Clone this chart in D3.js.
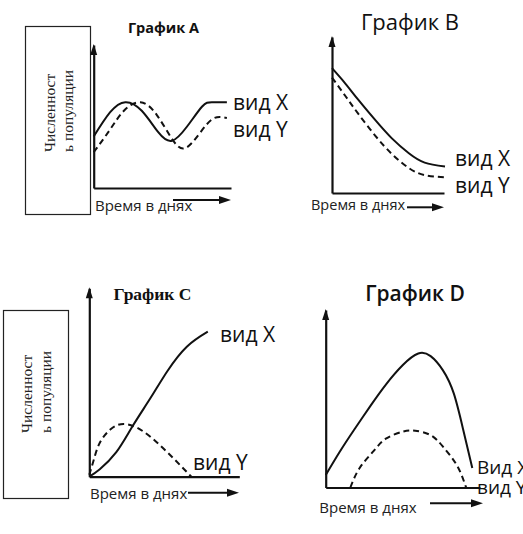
<!DOCTYPE html>
<html><head><meta charset="utf-8">
<script src="https://cdn.jsdelivr.net/npm/d3@7"></script>
<style>
html,body{margin:0;padding:0;background:#fff;}
svg{display:block;}
</style></head>
<body>
<svg id="c" width="523" height="534"></svg>
<script>
// ---- DATA (relative units 0..100 on each axis) ----
const titles = ["График A", "График B", "График C", "График D"];
const timeLabel = "Время в днях";
const yLabelLines = ["Численност", "ь популяции"];
const seriesLabelsA = ["вид X", "вид Y"];
const seriesLabelsB = ["вид X", "вид Y"];
const seriesLabelsC = ["вид X", "вид Y"];
const seriesLabelsD = ["Вид X", "вид Y"];

const tA_X = [0, 12, 23, 35, 47, 57, 68, 79, 86, 97];
const popA_X = [36, 53, 60, 54, 39, 33, 43, 57, 60, 60];
const tA_Y = [0, 12, 22, 34, 46, 58, 67, 77, 87, 97];
const popA_Y = [25, 41, 54, 60, 51, 33, 28, 38, 48.5, 49];

const tB = [0, 12, 23, 38, 53, 68, 82, 100];
const popB_X = [80, 70, 60, 47, 35, 25.5, 19.5, 17];
const popB_Y = [74, 62, 51, 37, 25, 16, 11.5, 10];

const tC_X = [0, 7, 18, 29, 41, 52, 65, 79];
const popC_X = [0, 4, 13, 27, 42, 56, 69, 77];
const tC_Y = [0, 3, 7, 14, 23, 36, 52, 68];
const popC_Y = [1, 9, 18, 25, 28, 24, 13, 0];

const tD_X = [0, 9, 18, 29, 39, 50, 60, 68, 76, 83, 89, 95];
const popD_X = [7, 20, 32, 46, 58, 69, 75.5, 74, 66, 53, 33, 11];
const tD_Y = [16, 22, 31, 39, 50, 58, 68, 76, 85, 91];
const popD_Y = [0, 11, 20.5, 27.5, 31.5, 32, 29.5, 23, 12.5, 0];

// ---- LAYOUT ----
const svg = d3.select("#c");
const SANS = "'Open Sans', 'DejaVu Sans', sans-serif";
const SERIF = "'Liberation Serif', 'DejaVu Serif', serif";

const panels = [
  { x0: 93.7, x1: 231, y0: 188, y1: 45, axisEnd: 231,
    title: { x: 163.5, y: 32.5, size: 14.5, weight: 700, font: SANS },
    time: { x: 95, y: 210.5, size: 15, a0: 173, a1: 231, ay: 200 },
    lab: [[233, 110], [233, 137]], labSize: 21, labels: seriesLabelsA,
    box: [25, 26, 65, 188], vt: { c1: 55, c2: 72.5, y: 152, size: 15.5 },
    X: [tA_X, popA_X], Y: [tA_Y, popA_Y] },
  { x0: 332, x1: 445, y0: 193, y1: 37, axisEnd: 444,
    title: { x: 410, y: 30, size: 22, weight: 400, font: SANS },
    time: { x: 311, y: 210, size: 14.5, a0: 407, a1: 444, ay: 207.3 },
    lab: [[455, 166], [455, 193]], labSize: 21, labels: seriesLabelsB,
    X: [tB, popB_X], Y: [tB, popB_Y] },
  { x0: 89.3, x1: 239.3, y0: 476.7, y1: 288.3, axisEnd: 239.3,
    title: { x: 152.5, y: 300, size: 17.5, weight: 700, font: SERIF },
    time: { x: 90, y: 499, size: 15, a0: 188, a1: 239, ay: 492.7 },
    lab: [[220, 342], [193, 470]], labSize: 21, labels: seriesLabelsC,
    box: [3, 310, 65, 188], vt: { c1: 31.5, c2: 50.5, y: 433, size: 15.5 },
    X: [tC_X, popC_X], Y: [tC_Y, popC_Y] },
  { x0: 325.7, x1: 480, y0: 487.5, y1: 310, axisEnd: 480,
    title: { x: 415, y: 301, size: 21, weight: 600, font: SANS },
    time: { x: 319.3, y: 513, size: 15, a0: 430, a1: 483, ay: 503.3 },
    lab: [[477, 473.5], [477, 493.5]], labSize: 19, labels: seriesLabelsD,
    X: [tD_X, popD_X], Y: [tD_Y, popD_Y] }
];

function arrowHead(g, x, y, dir) {
  let pts;
  if (dir === "up") pts = [[x, y], [x - 3.5, y + 11], [x + 3.5, y + 11]];
  else pts = [[x, y], [x - 12, y - 4], [x - 12, y + 4]];
  g.append("path").attr("d", "M" + pts.map(p => p.join(",")).join("L") + "Z").attr("fill", "#111");
}

panels.forEach((p, i) => {
  const g = svg.append("g");
  const x = d3.scaleLinear().domain([0, 100]).range([p.x0, p.x1]);
  const y = d3.scaleLinear().domain([0, 100]).range([p.y0, p.y1]);
  const xAxisScale = d3.scaleLinear().domain([0, 100]).range([p.x0, p.axisEnd]);

  if (p.box) {
    g.append("rect").attr("x", p.box[0] + 0.5).attr("y", p.box[1] + 0.5)
      .attr("width", p.box[2]).attr("height", p.box[3])
      .attr("fill", "none").attr("stroke", "#222").attr("stroke-width", 1.2);
    [p.vt.c1, p.vt.c2].forEach((cx, k) => {
      g.append("text").attr("transform", `translate(${cx},${p.vt.y}) rotate(-90)`)
        .attr("font-family", SERIF).attr("font-size", p.vt.size).attr("fill", "#222")
        .text(yLabelLines[k]);
    });
  }

  const ax = g.append("g").attr("transform", `translate(0,${p.y0})`)
    .call(d3.axisBottom(xAxisScale).tickValues([]).tickSizeOuter(0));
  const ay = g.append("g").attr("transform", `translate(${p.x0},0)`)
    .call(d3.axisLeft(y).tickValues([]).tickSizeOuter(0));
  [ax, ay].forEach(a => a.select(".domain").attr("stroke", "#111").attr("stroke-width", 2.2));
  arrowHead(g, p.x0, p.y1 - 1, "up");

  g.append("text").attr("x", p.title.x).attr("y", p.title.y).attr("text-anchor", "middle")
    .attr("font-family", p.title.font).attr("font-size", p.title.size)
    .attr("font-weight", p.title.weight).attr("fill", "#111").text(titles[i]);

  g.append("text").attr("x", p.time.x).attr("y", p.time.y)
    .attr("font-family", SANS).attr("font-size", p.time.size).attr("fill", "#222").text(timeLabel);
  g.append("line").attr("x1", p.time.a0).attr("x2", p.time.a1 - 8)
    .attr("y1", p.time.ay).attr("y2", p.time.ay).attr("stroke", "#111").attr("stroke-width", 2);
  arrowHead(g, p.time.a1, p.time.ay, "right");

  const line = d3.line().x(d => x(d[0])).y(d => y(d[1])).curve(d3.curveNatural);
  const ptsX = p.X[0].map((t, k) => [t, p.X[1][k]]);
  const ptsY = p.Y[0].map((t, k) => [t, p.Y[1][k]]);
  g.append("path").attr("d", line(ptsX)).attr("fill", "none").attr("stroke", "#111").attr("stroke-width", 2);
  g.append("path").attr("d", line(ptsY)).attr("fill", "none").attr("stroke", "#111")
    .attr("stroke-width", 2).attr("stroke-dasharray", "6,4");

  p.labels.forEach((lbl, k) => {
    g.append("text").attr("x", p.lab[k][0]).attr("y", p.lab[k][1])
      .attr("font-family", SANS).attr("font-size", p.labSize).attr("fill", "#111").text(lbl);
  });
});
</script>
</body></html>
